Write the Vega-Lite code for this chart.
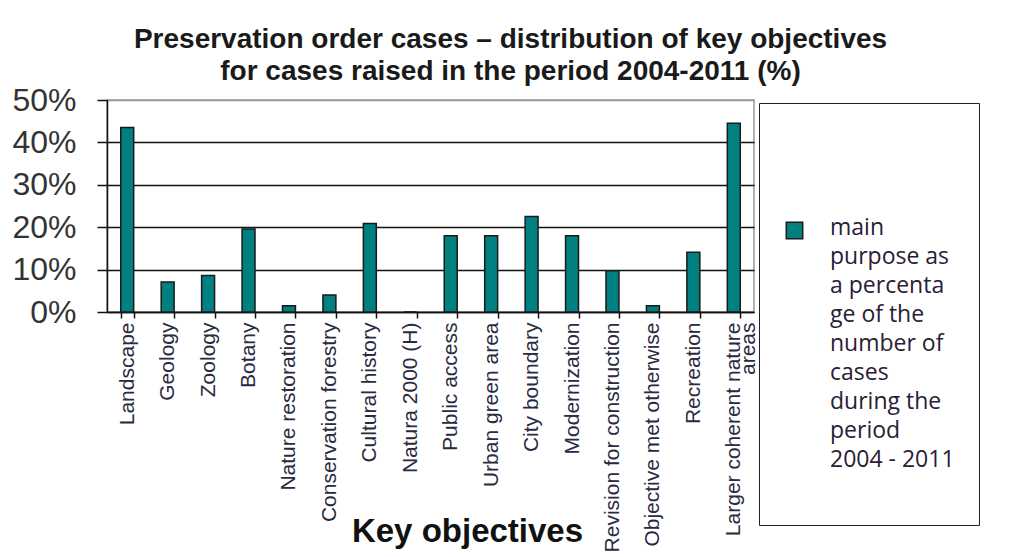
{
  "$schema": "https://vega.github.io/schema/vega-lite/v6.json",
  "width": 647,
  "height": 212,
  "autosize": {"type": "none"},
  "padding": {"left": 107, "top": 100, "right": 270, "bottom": 245},
  "background": "white",
  "title": {
    "text": ["Preservation order cases  – distribution  of key objectives", "for cases  raised in the period 2004-2011  (%)"],
    "font": "Liberation Sans",
    "fontSize": 28,
    "fontWeight": "bold",
    "color": "#1a1a1a",
    "lineHeight": 32,
    "anchor": "middle",
    "dx": 80,
    "offset": -2
  },
  "data": {
    "values": [
      {"objective": "Landscape", "share": 0.435},
      {"objective": "Geology", "share": 0.071},
      {"objective": "Zoology", "share": 0.086},
      {"objective": "Botany", "share": 0.196},
      {"objective": "Nature restoration", "share": 0.015},
      {"objective": "Conservation forestry", "share": 0.040},
      {"objective": "Cultural history", "share": 0.209},
      {"objective": "Natura 2000 (H)", "share": 0.0},
      {"objective": "Public access", "share": 0.180},
      {"objective": "Urban green area", "share": 0.180},
      {"objective": "City boundary", "share": 0.225},
      {"objective": "Modernization", "share": 0.180},
      {"objective": "Revision for construction", "share": 0.097},
      {"objective": "Objective met otherwise", "share": 0.015},
      {"objective": "Recreation", "share": 0.141},
      {"objective": "Larger coherent nature areas", "share": 0.445}
    ]
  },
  "transform": [
    {"calculate": "'main purpose as a percentage of the number of cases during the period 2004 - 2011'", "as": "series"}
  ],
  "mark": {"type": "bar", "stroke": "#1a1a1a", "strokeWidth": 1.5},
  "encoding": {
    "x": {
      "field": "objective",
      "type": "nominal",
      "sort": null,
      "scale": {"paddingInner": 0.68, "paddingOuter": 0.34},
      "axis": {
        "title": "Key objectives",
        "titleFont": "Liberation Sans",
        "titleFontSize": 33,
        "titleFontWeight": "bold",
        "titleColor": "#111",
        "titleX": 360,
        "titleY": 229,
        "titleBaseline": "alphabetic",
        "labelAngle": -90,
        "labelAlign": "right",
        "labelBaseline": "middle",
        "labelFont": "Liberation Sans",
        "labelFontSize": 21,
        "labelColor": "#2a2a40",
        "labelPadding": 4,
        "labelLineHeight": 15,
        "labelLimit": 300,
        "labelExpr": "datum.value == 'Larger coherent nature areas' ? ['Larger coherent nature', 'areas'] : datum.label",
        "tickBand": "extent",
        "tickSize": 6,
        "tickColor": "#111",
        "tickWidth": 1.5,
        "domainColor": "#111",
        "domainWidth": 1.5,
        "grid": false
      }
    },
    "y": {
      "field": "share",
      "type": "quantitative",
      "scale": {"domain": [0, 0.5]},
      "axis": {
        "title": null,
        "values": [0, 0.1, 0.2, 0.3, 0.4, 0.5],
        "format": ".0%",
        "labelFont": "Liberation Sans",
        "labelFontSize": 32,
        "labelColor": "#333",
        "labelPadding": 21,
        "tickSize": 10,
        "tickColor": "#111",
        "tickWidth": 1.5,
        "domainColor": "#111",
        "domainWidth": 1.5,
        "grid": true,
        "gridColor": {"condition": {"test": "datum.value == 0.5", "value": "#999"}, "value": "#111"},
        "gridWidth": 1.5
      }
    },
    "color": {
      "field": "series",
      "type": "nominal",
      "scale": {"range": ["#008080"]},
      "legend": {
        "title": " ",
        "titleFontSize": 12,
        "titlePadding": 80,
        "orient": "none",
        "legendX": 652,
        "legendY": 3,
        "padding": 24,
        "strokeColor": "#222",
        "fillColor": "white",
        "symbolType": "square",
        "symbolSize": 270,
        "symbolStrokeColor": "#1a1a1a",
        "symbolStrokeWidth": 1.5,
        "symbolOpacity": 1,
        "labelFont": "Open Sans",
        "labelFontSize": 23,
        "labelColor": "#2a2035",
        "labelOffset": 24,
        "labelBaseline": "top",
        "labelLimit": 300,
        "labelExpr": "['main', 'purpose as', 'a percenta', 'ge of the', 'number of', 'cases', 'during the', 'period', '2004 - 2011', '']",
        "encode": {"labels": {"update": {"dy": {"value": -14}, "lineHeight": {"value": 29}}}}
      }
    }
  },
  "config": {
    "view": {"stroke": "#999", "strokeWidth": 1.5}
  }
}
